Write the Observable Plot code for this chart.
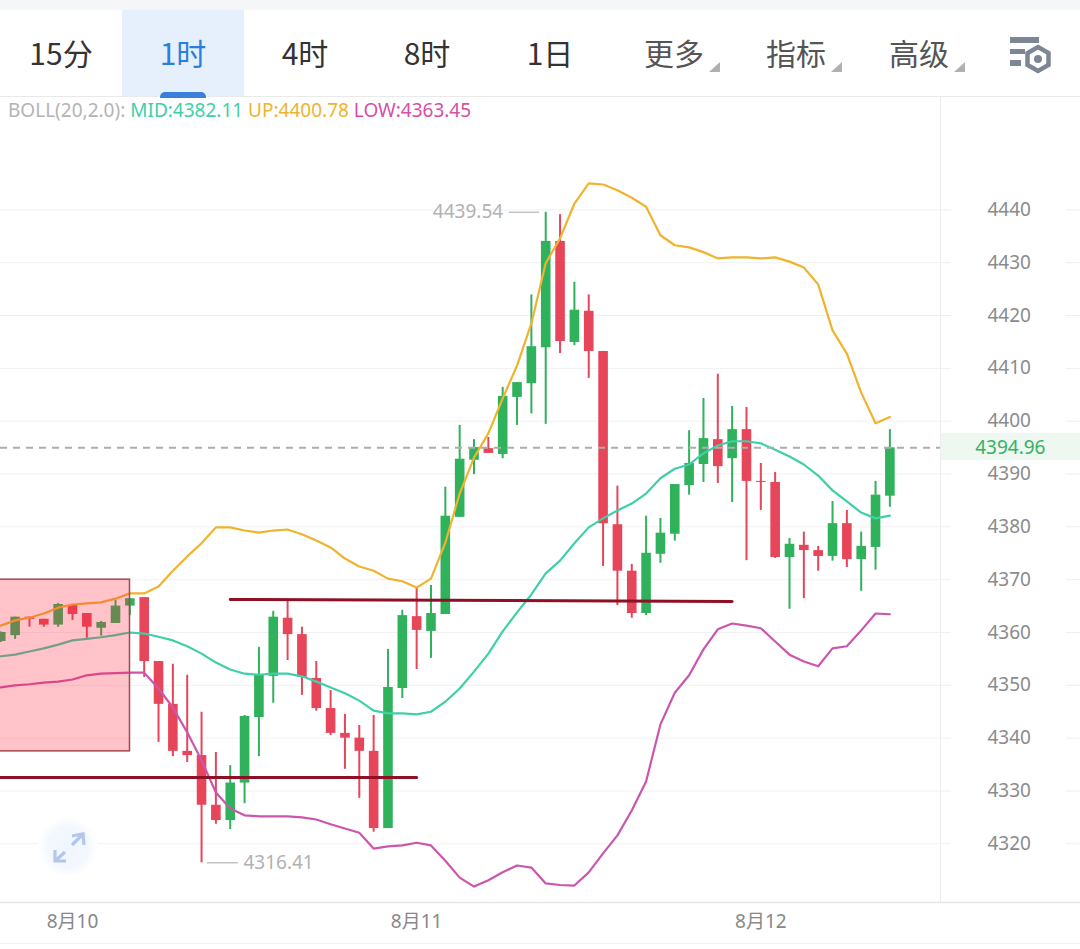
<!DOCTYPE html>
<html><head><meta charset="utf-8">
<script src="https://cdn.jsdelivr.net/npm/d3@7"></script>
<script src="https://cdn.jsdelivr.net/npm/@observablehq/plot@0.6"></script>
<style>
html,body{margin:0;padding:0;background:#fff;width:1080px;height:949px;overflow:hidden;font-family:"Noto Sans CJK SC","Noto Sans",sans-serif}
#head{position:relative;height:97px;box-sizing:border-box;border-bottom:1px solid #e9e9e9;border-top:10px solid #f5f6f8;background:#fff}
.tab{position:absolute;top:0;height:86px;width:122px;text-align:center;line-height:85px;font-size:30px;color:#333}
.tab.more{color:#555}
.tab.on{background:#e5f0fc;color:#2b7de0}
.pill{position:absolute;left:160px;top:82px;width:46px;height:6px;background:#3a7fdc;border-radius:5px 5px 0 0}
.tri{position:absolute;top:52px;width:11px;height:10px;background:#aeb0b3;clip-path:polygon(100% 0,100% 100%,0 100%)}
#legend{position:absolute;left:8px;top:97px;font:19px/26px "Noto Sans",sans-serif;white-space:nowrap;color:#b4b4b4}
#chart{position:absolute;left:0;top:97px}
#chart svg{display:block}
.ico{position:absolute}
</style></head><body>
<div id="head"></div>
<div id="chart"></div>
<div id="legend"></div>
<svg class="ico" style="left:1005px;top:32px" width="50" height="44" viewBox="0 0 50 44">
<rect x="5" y="5" width="29" height="6" fill="#7d8694"/><rect x="5" y="17" width="15" height="5" fill="#7d8694"/><rect x="5" y="28" width="11" height="6" fill="#7d8694"/>
<path d="M33 15l10.500 6v12l-10.500 6l-10.500-6v-12z" fill="none" stroke="#7d8694" stroke-width="4.500"/><circle cx="33" cy="27" r="4" fill="#7d8694"/></svg>
<svg class="ico" style="left:38px;top:817px" width="62" height="62" viewBox="0 0 62 62">
<defs><radialGradient id="ig"><stop offset="0" stop-color="#f1f6fe"/><stop offset="0.7" stop-color="#f4f8fe"/><stop offset="1" stop-color="#ffffff"/></radialGradient></defs>
<circle cx="30" cy="30" r="30" fill="url(#ig)"/>
<path d="M34 28L45 17M34 19l11-2l1 11M17 44L27 35M17 33v11h11" fill="none" stroke="#b3c6ec" stroke-width="3.200"/></svg>
<script>
const tabs = ["15分","1时","4时","8时","1日","更多","指标","高级"];
const tabCenters = [61,183,305,427,550,674,796,919];
const legendParts = [["BOLL(20,2.0): ","#b4b4b4"],["MID:4382.11 ","#3fcfa9"],["UP:4400.78 ","#f0b32e"],["LOW:4363.45","#d64fa8"]];
const hours = d3.range(-5, 58);
const opens = [4358.3,4359.4,4362.9,4362.5,4361.4,4365.1,4363.6,4360.8,4361.7,4365.0,
4366.6,4354.5,4346.4,4337.5,4336.7,4327.3,4324.4,4331.5,4343.9,4351.7,
4362.7,4359.6,4351.3,4345.6,4340.9,4340.0,4337.5,4322.9,4349.4,4363.0,
4360.2,4363.4,4381.8,4392.6,4394.8,4393.7,4404.5,4407.1,4413.9,4434.0,
4414.9,4420.8,4413.2,4380.4,4371.6,4363.6,4374.8,4378.6,4387.8,4391.8,
4396.5,4392.9,4398.4,4388.6,4388.4,4374.2,4376.5,4375.5,4374.4,4380.6,
4373.8,4376.1,4385.8];
const closes = [4360.0,4362.9,4362.5,4361.4,4365.3,4363.4,4361.0,4361.9,4365.0,4366.4,
4354.5,4346.4,4337.5,4336.7,4327.3,4324.4,4331.5,4344.1,4351.9,4362.9,
4359.6,4351.5,4345.6,4340.9,4340.0,4337.5,4322.9,4349.6,4363.2,4360.4,
4363.6,4382.0,4392.8,4395.0,4393.9,4404.7,4407.3,4414.1,4434.0,4415.1,
4421.0,4413.2,4380.6,4371.6,4363.6,4375.0,4378.8,4388.0,4392.0,4396.7,
4391.4,4398.4,4388.6,4388.4,4374.2,4376.7,4375.5,4374.4,4380.6,4373.8,
4376.3,4386.0,4394.96];
const highs = [4360.1,4362.9,4362.9,4362.5,4365.5,4365.1,4363.6,4362.1,4366.1,4366.4,
4366.6,4354.5,4354.0,4351.9,4344.9,4337.3,4334.8,4344.3,4357.2,4364.0,
4366.2,4361.0,4354.5,4349.0,4344.5,4342.4,4344.3,4356.8,4364.2,4368.5,
4368.9,4387.5,4399.2,4396.5,4396.9,4406.4,4407.3,4423.9,4439.54,4439.1,
4426.3,4423.9,4413.2,4387.7,4372.9,4382.0,4381.6,4388.0,4398.2,4404.3,
4408.9,4402.8,4402.6,4392.0,4390.3,4377.8,4379.0,4376.3,4384.8,4383.1,
4379.0,4388.6,4398.4];
const lows = [4358.1,4358.7,4361.0,4361.0,4361.0,4362.3,4358.9,4359.3,4361.7,4363.2,
4351.5,4339.2,4336.5,4335.4,4316.41,4323.7,4322.7,4327.6,4336.5,4346.6,
4354.7,4348.1,4345.1,4340.5,4334.1,4328.6,4322.2,4322.9,4347.5,4353.0,
4355.1,4363.4,4381.8,4389.9,4393.9,4392.9,4399.2,4401.4,4399.4,4412.8,
4414.3,4408.1,4372.5,4365.1,4362.7,4363.2,4373.1,4377.3,4386.0,4388.4,
4388.2,4384.6,4373.6,4383.1,4374.0,4364.4,4366.4,4371.6,4373.5,4372.3,
4367.8,4371.8,4383.7];
const bollUp = [4361.3,4362.3,4362.8,4363.6,4364.7,4365.3,4365.5,4365.7,4366.4,4367.4,
4367.4,4368.7,4371.7,4374.4,4376.9,4379.9,4379.9,4379.3,4378.9,4379.3,
4379.5,4378.6,4377.4,4376.1,4374.0,4372.5,4371.7,4370.2,4369.7,4368.5,
4370.2,4377.0,4386.3,4393.1,4397.7,4404.3,4410.5,4418.5,4429.9,4434.6,
4441.2,4445.0,4444.8,4443.7,4442.3,4440.6,4435.2,4433.3,4432.9,4432.0,
4430.8,4431.0,4431.0,4430.8,4431.0,4430.2,4429.1,4425.9,4417.2,4412.8,
4405.4,4399.6,4400.78];
const bollMid = [4355.5,4355.8,4356.4,4357.0,4357.7,4358.5,4358.8,4359.1,4359.5,4360.0,
4359.8,4359.2,4358.5,4357.4,4356.0,4354.3,4353.0,4352.2,4352.0,4352.2,
4352.2,4351.7,4350.7,4349.6,4348.5,4347.1,4345.2,4344.7,4344.7,4344.5,
4345.0,4346.9,4349.4,4352.6,4356.0,4360.2,4363.8,4367.2,4371.2,4373.6,
4376.9,4379.9,4381.6,4383.1,4384.4,4386.3,4389.2,4391.0,4391.8,4393.9,
4395.4,4396.2,4396.2,4395.8,4394.6,4393.3,4391.8,4389.7,4386.9,4384.8,
4382.7,4381.6,4382.11];
const bollLow = [4349.6,4350.0,4350.2,4350.5,4350.7,4351.1,4351.9,4352.2,4352.3,4352.4,
4352.4,4349.4,4345.8,4341.1,4335.8,4329.7,4326.7,4325.4,4325.2,4325.2,
4325.2,4325.0,4324.6,4323.7,4322.9,4322.1,4319.1,4319.5,4319.7,4320.2,
4319.7,4316.8,4313.6,4311.9,4313.1,4314.6,4315.9,4315.5,4312.5,4312.2,
4312.1,4314.6,4318.2,4321.6,4326.3,4331.8,4342.6,4348.6,4351.9,4356.8,
4360.6,4361.7,4361.3,4360.8,4358.3,4355.8,4354.5,4353.6,4357.0,4357.4,
4360.4,4363.6,4363.45];
const priceTicks = [4320,4330,4340,4350,4360,4370,4380,4390,4400,4410,4420,4430,4440];
const dateTicks = [0,24,48];
const dateLabels = ["8月10","8月11","8月12"];
const lastPrice = 4394.96, highPrice = 4439.54, lowPrice = 4316.41;
const highIndex = 33, lowIndex = 9;
const trendUpper = [{h:11,p:4366.25},{h:46,p:4365.87}];
const trendLower = [{h:-6,p:4332.55},{h:24,p:4332.55}];

const head = document.getElementById("head");
tabs.forEach((t,i)=>{
  const d=document.createElement("div");
  d.className="tab"+(i===1?" on":"")+(i>=5?" more":"");
  d.style.left=(tabCenters[i]-61)+"px"; d.textContent=t; head.appendChild(d);
  if(i>=5){const r=document.createElement("div");r.className="tri";r.style.left=(tabCenters[i]+35)+"px";head.appendChild(r);}
});
const pill=document.createElement("div");pill.className="pill";head.appendChild(pill);
const lg=document.getElementById("legend");
legendParts.forEach(([t,c])=>{const s=document.createElement("span");s.textContent=t;s.style.color=c;lg.appendChild(s);});

const candles = hours.map((h,i)=>({h,open:opens[i],close:closes[i],high:highs[i],low:lows[i],up:closes[i]>=opens[i]}));
const bandRows = a => hours.map((h,i)=>({h,p:a[i]}));
const GREEN="#30b15c", RED="#e6455a";
const col = d=>d.up?GREEN:RED;
const xR=60.53, xEnd=70.4;

const plot = Plot.plot({
  width:1080, height:852, marginTop:0, marginLeft:0, marginRight:140, marginBottom:47,
  style:{fontFamily:'"Noto Sans","Noto Sans CJK SC",sans-serif',background:"transparent"},
  x:{type:"linear",domain:[-5.02,xR],axis:null},
  y:{domain:[4308.89,4461.27],axis:null},
  marks:[
    Plot.ruleY(priceTicks,{stroke:"#f1f1f2",strokeWidth:1}),
    Plot.ruleY(priceTicks,{x1:69.3,x2:xEnd,stroke:"#eeeeee"}),
    Plot.rect([{}],{x1:()=>xR,x2:()=>xEnd,y1:()=>4392.6,y2:()=>4397.7,fill:"#eef8f1"}),
    Plot.ruleX(candles,{x:"h",y1:"low",y2:"high",stroke:col,strokeWidth:2}),
    Plot.ruleX(candles,{x:"h",y1:"open",y2:"close",stroke:col,strokeWidth:9.6}),
    Plot.line(bandRows(bollUp),{x:"h",y:"p",stroke:"#f0b32e",strokeWidth:2.2}),
    Plot.line(bandRows(bollMid),{x:"h",y:"p",stroke:"#3fcfa9",strokeWidth:2.2}),
    Plot.line(bandRows(bollLow),{x:"h",y:"p",stroke:"#cc55ad",strokeWidth:2.2}),
    Plot.ruleY([lastPrice],{stroke:"#adadad",strokeWidth:2,strokeDasharray:"7,6"}),
    Plot.line(trendUpper,{x:"h",y:"p",stroke:"#8f1024",strokeWidth:3}),
    Plot.line(trendLower,{x:"h",y:"p",stroke:"#8f1024",strokeWidth:3}),
    Plot.rect([{}],{x1:()=>-6,x2:()=>4.01,y1:()=>4337.5,y2:()=>4370.0,fill:"#ff2036",fillOpacity:0.27,stroke:"#a8464f",strokeWidth:1.500}),
    Plot.ruleY([highPrice],{x1:highIndex-2.55,x2:highIndex-0.42,stroke:"#c4c4c4",strokeWidth:1.500}),
    Plot.text([highPrice],{x:highIndex-2.97,y:d=>d,text:d=>d.toFixed(2),textAnchor:"end",fill:"#b2b2b2",fontSize:19}),
    Plot.ruleY([lowPrice],{x1:lowIndex+0.42,x2:lowIndex+2.57,stroke:"#c4c4c4",strokeWidth:1.500}),
    Plot.text([lowPrice],{x:lowIndex+2.92,y:d=>d,text:d=>d.toFixed(2),textAnchor:"start",fill:"#b2b2b2",fontSize:19}),
    Plot.axisY(priceTicks,{anchor:"right",label:null,tickSize:10,tickPadding:37,stroke:"#eeeeee",fill:"#8b8b8b",fontSize:19,tickFormat:d=>String(d)}),
    Plot.text([lastPrice],{x:()=>65.4,y:d=>d,text:d=>d.toFixed(2),fill:"#33b365",fontSize:19}),
    Plot.axisX(dateTicks,{anchor:"bottom",label:null,tickSize:0,tickPadding:12,fill:"#888888",fontSize:19,tickFormat:(d,i)=>dateLabels[dateTicks.indexOf(d)]}),
    Plot.ruleX([xR],{y1:4308.89,y2:4461.27,stroke:"#ececec"}),
    Plot.ruleY([4308.89],{x1:-6,x2:xEnd,stroke:"#e6e6e6",strokeWidth:1.500}),
    Plot.ruleY([4301.1],{x1:-6,x2:xEnd,stroke:"#efefef"})
  ]
});
document.getElementById("chart").appendChild(plot);
</script>
</body></html>
